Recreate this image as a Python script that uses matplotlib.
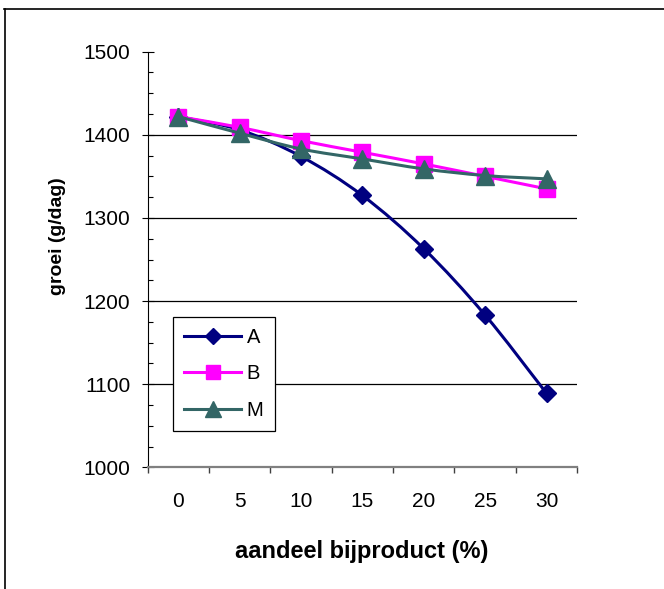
import numpy as np
import matplotlib.pyplot as plt
from matplotlib.path import Path
from matplotlib.patches import PathPatch
from matplotlib.lines import Line2D
from matplotlib.ticker import FixedLocator, FixedFormatter, NullFormatter, MultipleLocator

plt.rcParams['font.family'] = ['Liberation Sans', 'DejaVu Sans']

# data
x_labels = ['0', '5', '10', '15', '20', '25', '30']
groei_A = [1422, 1406, 1374, 1327, 1263, 1183, 1089]
groei_B = [1422, 1409, 1393, 1379, 1365, 1350, 1335]
groei_M = [1422, 1402, 1383, 1371, 1359, 1351, 1347]
y_ticks = [1000, 1100, 1200, 1300, 1400, 1500]


def smooth_path(xs, ys):
    # smoothed line like excel: bezier segments through the data points
    pts = np.column_stack([xs, ys]).astype(float)
    tang = np.zeros_like(pts)
    tang[1:-1] = (pts[2:] - pts[:-2]) / 2
    tang[0] = pts[1] - pts[0]
    tang[-1] = pts[-1] - pts[-2]
    verts = [pts[0]]
    codes = [Path.MOVETO]
    for i in range(len(pts) - 1):
        verts += [pts[i] + tang[i] / 3, pts[i + 1] - tang[i + 1] / 3, pts[i + 1]]
        codes += [Path.CURVE4] * 3
    return Path(verts, codes)


W, H = 664, 589
fig = plt.figure(figsize=(W / 100, H / 100), dpi=100)
ax = fig.add_axes([147.5 / W, 1 - 467.3 / H, (577.3 - 147.5) / W, (467.3 - 51.7) / H])

x = np.arange(len(x_labels))
ax.set_xlim(-0.5, len(x_labels) - 0.5)
ax.set_ylim(y_ticks[0], y_ticks[-1])

# gridlines (not at 1000 and 1500)
ax.hlines(y_ticks[1:-1], -0.5, len(x_labels) - 0.5, colors='black', lw=0.9, zorder=1)

series = [
    ('A', groei_A, '#000080', 'D', 9.3),
    ('B', groei_B, '#FF00FF', 's', 11.3),
    ('M', groei_M, '#336666', '^', 12.3),
]
handles = []
z = 2
for name, vals, col, mk, ms in series:
    patch = PathPatch(smooth_path(x, vals), fill=False, edgecolor=col, lw=2.2,
                      capstyle='round', joinstyle='round', zorder=z)
    ax.add_patch(patch)
    ax.plot(x, vals, ls='none', marker=mk, ms=ms, color=col, mec=col, zorder=z + 0.5)
    handles.append(Line2D([], [], color=col, lw=2.2, marker=mk, ms=ms * 0.9, mec=col, label=name))
    z += 1

for s in ['top', 'right']:
    ax.spines[s].set_visible(False)
ax.spines['left'].set_color('black')
ax.spines['left'].set_linewidth(0.8)
ax.spines['bottom'].set_color('#808080')
ax.spines['bottom'].set_linewidth(1.6)

# y axis
ax.yaxis.set_major_locator(FixedLocator(y_ticks))
ax.yaxis.set_minor_locator(MultipleLocator(25))
ax.tick_params(axis='y', which='major', direction='inout', length=8.6, width=0.8,
               labelsize=15, pad=8)
ax.tick_params(axis='y', which='minor', direction='in', length=3.8, width=0.8)

# x axis: ticks between categories, labels at centers
ax.xaxis.set_major_locator(FixedLocator(np.arange(len(x_labels) + 1) - 0.5))
ax.xaxis.set_major_formatter(NullFormatter())
ax.xaxis.set_minor_locator(FixedLocator(x))
ax.xaxis.set_minor_formatter(FixedFormatter(x_labels))
ax.tick_params(axis='x', which='major', direction='out', length=4.3, width=1, color='#404040')
ax.tick_params(axis='x', which='minor', length=0, labelsize=15, pad=18)

fig.text(57 / W, 1 - 236.5 / H, 'groei (g/dag)', rotation=90, ha='center', va='center',
         fontsize=14, fontweight='bold')
fig.text(361.7 / W, 1 - 558 / H, 'aandeel bijproduct (%)', ha='center', va='baseline',
         fontsize=17, fontweight='bold')

leg = ax.legend(handles=handles, loc='upper left', bbox_to_anchor=(173.3 / W, 1 - 316.7 / H),
                bbox_transform=fig.transFigure, borderaxespad=0, fancybox=False,
                edgecolor='black', framealpha=1, fontsize=14.5, handlelength=2.8,
                handletextpad=0.3, labelspacing=0.88, borderpad=0.55)
leg.get_frame().set_linewidth(0.9)

# outer chart border (top and left visible)
fig.add_artist(Line2D([4.5 / W, 4.5 / W], [0, 1 - 9 / H], color='black', lw=1.2))
fig.add_artist(Line2D([4 / W, 1], [1 - 9 / H, 1 - 9 / H], color='black', lw=1.2))

fig.savefig('out.png', dpi=100)
